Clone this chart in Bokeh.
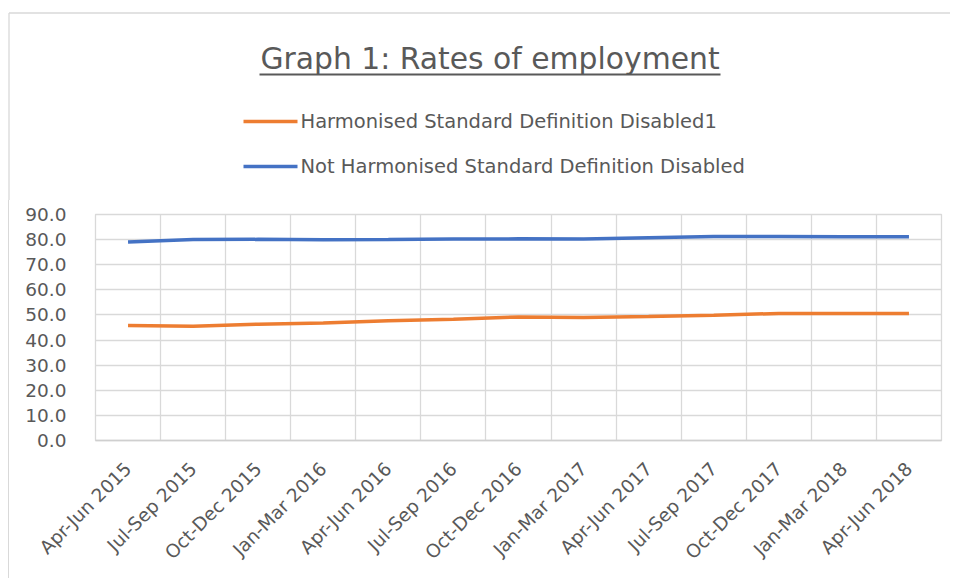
from bokeh.plotting import figure
from bokeh.layouts import column, row
from bokeh.models import FixedTicker, Range1d, ColumnDataSource
from bokeh.core.properties import value
from bokeh.embed import file_html
from bokeh.resources import INLINE

# ---------------- data ----------------
quarters = ["Apr-Jun 2015", "Jul-Sep 2015", "Oct-Dec 2015", "Jan-Mar 2016",
            "Apr-Jun 2016", "Jul-Sep 2016", "Oct-Dec 2016", "Jan-Mar 2017",
            "Apr-Jun 2017", "Jul-Sep 2017", "Oct-Dec 2017", "Jan-Mar 2018",
            "Apr-Jun 2018"]
harmonised = [45.8, 45.5, 46.3, 46.8, 47.7, 48.3, 49.2, 49.0, 49.4, 49.9, 50.6, 50.6, 50.6]
not_harmonised = [79.0, 80.0, 80.1, 79.9, 80.0, 80.2, 80.3, 80.2, 80.7, 81.2, 81.2, 81.1, 81.1]
y_ticks = [0, 10, 20, 30, 40, 50, 60, 70, 80, 90]
title_text = "Graph 1: Rates of employment"
series_names = ["Harmonised Standard Definition Disabled1",
                "Not Harmonised Standard Definition Disabled"]
series_colors = ["#ED7D31", "#4472C4"]

# ---------------- style ----------------
FONT = "DejaVu Sans"
GREY = "#595959"
GRID = "#d9d9d9"
W = 950
HEAD_H = 200
MAIN_H = 378
INDENT = 8


def bare(fig):
    fig.xaxis.visible = False
    fig.yaxis.visible = False
    fig.xgrid.visible = False
    fig.ygrid.visible = False
    fig.outline_line_color = None
    fig.background_fill_color = "white"
    fig.border_fill_color = "white"


# ---------------- header (title + legend), pixel coordinates ----------------
head = figure(width=W, height=HEAD_H, output_backend="svg", toolbar_location=None,
              x_range=Range1d(0, W), y_range=Range1d(HEAD_H, 0), title=None,
              min_border=0, min_border_left=0, min_border_right=0,
              min_border_top=0, min_border_bottom=0)
bare(head)
# chart border (top and left)
head.segment(x0=[8.5, 8.5], y0=[12.5, 12.5], x1=[W, 8.5], y1=[12.5, HEAD_H],
             line_color=GRID, line_width=1.3)
# title with underline
head.text(x=[489.5], y=[57.6], text=[title_text], text_align="center",
          text_baseline="middle", text_font=value(FONT),
          text_font_size="29.8px", text_color=GREY)
head.segment(x0=[259], y0=[74], x1=[720], y1=[74], line_color=GREY, line_width=2)
# legend
leg_y = [121, 166]
head.segment(x0=[243, 243], y0=leg_y, x1=[297, 297], y1=leg_y,
             line_color=series_colors, line_width=3.5)
head.text(x=[300, 300], y=leg_y, text=series_names, text_align="left",
          text_baseline="middle", text_font=value(FONT),
          text_font_size="19.5px", text_color=GREY)

# ---------------- main chart ----------------
n = len(quarters)
xs = list(range(n))
src = ColumnDataSource(dict(x=xs, h=harmonised, nh=not_harmonised))

PW = W - INDENT - 1
p = figure(width=PW, height=MAIN_H, output_backend="svg",
           toolbar_location=None, title=None,
           x_range=Range1d(-0.5, n - 0.5), y_range=Range1d(y_ticks[0], y_ticks[-1]),
           min_border_left=95 - INDENT - 1, min_border_right=PW - (941 - INDENT - 1),
           min_border_top=14, min_border_bottom=MAIN_H - 240)
p.background_fill_color = "white"
p.border_fill_color = "white"
p.outline_line_color = GRID
p.outline_line_width = 1.3

p.xgrid.ticker = FixedTicker(ticks=[i - 0.5 for i in range(n + 1)])
p.ygrid.ticker = FixedTicker(ticks=y_ticks)
for g in (p.xgrid, p.ygrid):
    g.grid_line_color = GRID
    g.grid_line_width = 1.3

xa = p.xaxis[0]
xa.ticker = FixedTicker(ticks=xs)
xa.major_label_overrides = {i: q for i, q in enumerate(quarters)}
xa.major_label_orientation = 0.7853981633974483
xa.major_tick_line_color = None
xa.minor_tick_line_color = None
xa.axis_line_color = "#cfcfcf"
xa.axis_line_width = 1.3
xa.major_label_text_font = FONT
xa.major_label_text_font_size = "18.5px"
xa.major_label_text_color = GREY
xa.major_label_standoff = 19

ya = p.yaxis[0]
ya.ticker = FixedTicker(ticks=y_ticks)
ya.major_label_overrides = {v: f"{v:.1f}" for v in y_ticks}
ya.major_tick_line_color = None
ya.minor_tick_line_color = None
ya.axis_line_color = None
ya.major_label_text_font = FONT
ya.major_label_text_font_size = "18.5px"
ya.major_label_text_color = GREY
ya.major_label_standoff = 23

p.line("x", "h", source=src, line_color=series_colors[0], line_width=3.5)
p.line("x", "nh", source=src, line_color=series_colors[1], line_width=3.5)

body = row(p, margin=(0, 0, 0, INDENT),
           styles={"border-left": f"1px solid {GRID}"})
layout = column(head, body)
open("out.html", "w").write(file_html(layout, INLINE))
